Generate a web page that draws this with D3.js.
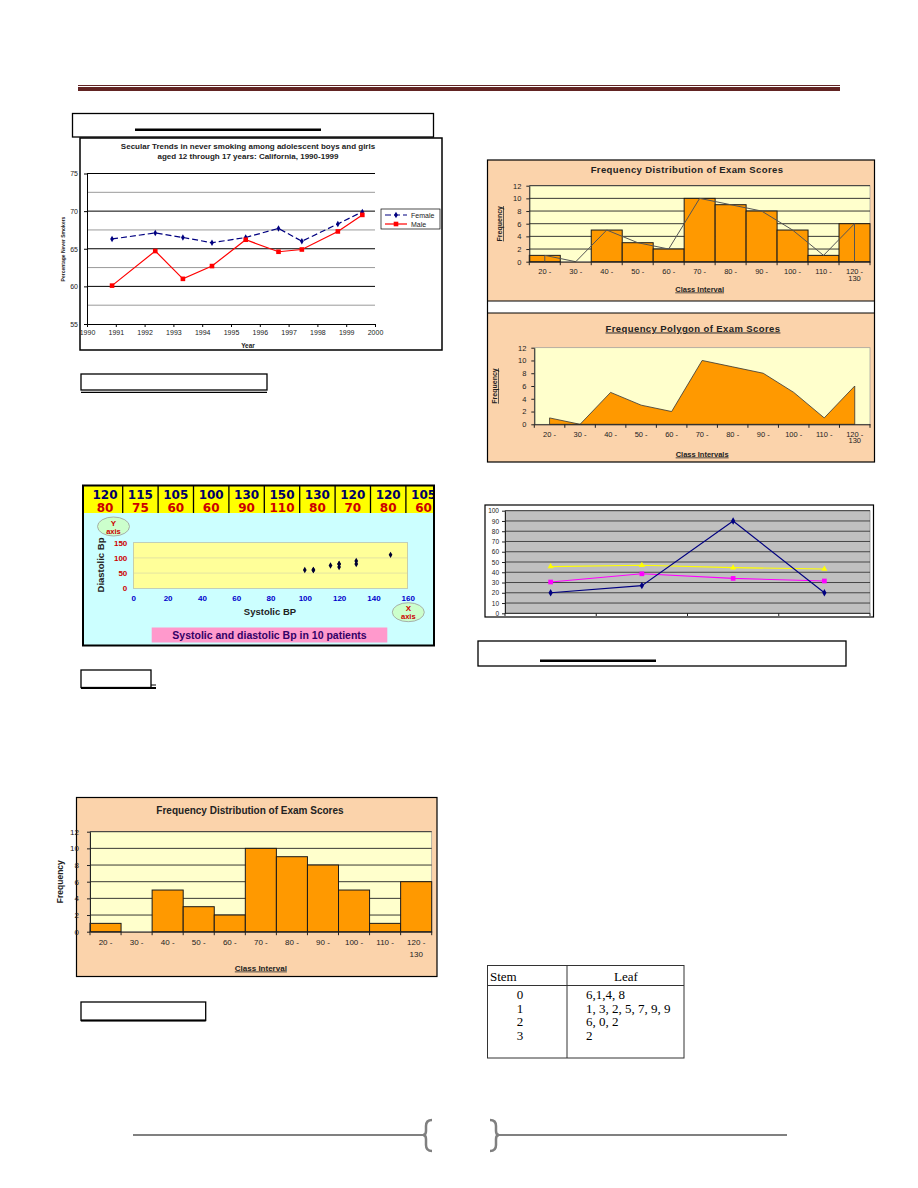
<!DOCTYPE html>
<html><head><meta charset="utf-8">
<script src="https://cdn.jsdelivr.net/npm/d3@7"></script>
<style>
body{margin:0;background:#fff}
svg{display:block}
</style>
</head><body>
<svg id="c" width="918" height="1188" font-family="Liberation Sans, Arial, sans-serif"></svg>
<script>
// ---------- DATA ----------
const trendYears = [1990.87, 1992.37, 1993.33, 1994.34, 1995.51, 1996.65, 1997.46, 1998.71, 1999.56];
const femalePct = [66.3, 67.1, 66.5, 65.8, 66.5, 67.7, 66.0, 68.3, 69.9];
const malePct   = [60.1, 64.7, 61.0, 62.7, 66.2, 64.6, 64.9, 67.3, 69.5];
const trendXTicks = [1990, 1991, 1992, 1993, 1994, 1995, 1996, 1997, 1998, 1999, 2000];
const trendYTicks = [55, 60, 65, 70, 75];
const trendGrid = [57.5, 60, 62.5, 65, 67.5, 70, 72.5, 75];

const bpSystolic  = [120, 115, 105, 100, 130, 150, 130, 120, 120, 105];
const bpDiastolic = [80, 75, 60, 60, 90, 110, 80, 70, 80, 60];
const bpXTicks = [0, 20, 40, 60, 80, 100, 120, 140, 160];
const bpYTicks = [0, 50, 100, 150];

const classLabels = ["20 -", "30 -", "40 -", "50 -", "60 -", "70 -", "80 -", "90 -", "100 -", "110 -", "120 -"];
const examFreq = [1, 0, 5, 3, 2, 10, 9, 8, 5, 1, 6];
const freqTicks = [0, 2, 4, 6, 8, 10, 12];

const lineCats = [0, 1, 2, 3];
const seriesNavy = [20, 27, 90, 20];
const seriesMagenta = [30.5, 38.5, 34, 31.5];
const seriesYellow = [45.5, 46.8, 44.5, 43.2];
const lineYTicks = [0, 10, 20, 30, 40, 50, 60, 70, 80, 90, 100];

const stems = ["0", "1", "2", "3"];
const leaves = ["6,1,4, 8", "1, 3, 2, 5, 7, 9, 9", "6, 0, 2", "2"];

// ---------- PAGE ----------
const svg = d3.select("#c");
const SANS = "Liberation Sans, Arial, sans-serif";
const PEACH = "#fbd3ab", PALE = "#ffffcc", ORANGE = "#ff9900";

// header rule
svg.append("line").attr("x1",78).attr("x2",840).attr("y1",85.5).attr("y2",85.5).attr("stroke","#622423").attr("stroke-width",1);
svg.append("rect").attr("x",78).attr("y",87).attr("width",762).attr("height",4).attr("fill","#622423");

// empty caption boxes
function box(x,y,w,h,sw){svg.append("rect").attr("x",x).attr("y",y).attr("width",w).attr("height",h).attr("fill","none").attr("stroke","#000").attr("stroke-width",sw||1.3);}
box(72.5,113.5,361,23.5);
svg.append("rect").attr("x",135).attr("y",128.5).attr("width",186).attr("height",2.5).attr("fill","#000");
box(81,374,186,16);
svg.append("line").attr("x1",81).attr("x2",267).attr("y1",392.3).attr("y2",392.3).attr("stroke","#000").attr("stroke-width",1.2);
box(81,670,70,17.5);
svg.append("line").attr("x1",81).attr("x2",156).attr("y1",688).attr("y2",688).attr("stroke","#000").attr("stroke-width",2);
svg.append("line").attr("x1",151).attr("x2",156).attr("y1",685).attr("y2",685).attr("stroke","#000").attr("stroke-width",1);
box(81,1002,124.7,18.5);
svg.append("line").attr("x1",81).attr("x2",205.7).attr("y1",1020.5).attr("y2",1020.5).attr("stroke","#000").attr("stroke-width",2);
box(478,641,368,25);
svg.append("rect").attr("x",540).attr("y",659.5).attr("width",116).attr("height",2.5).attr("fill","#000");

// ---------- TREND LINE CHART ----------
{
  const g = svg.append("g");
  g.append("rect").attr("x",80).attr("y",138).attr("width",362).attr("height",212).attr("fill","#fff").attr("stroke","#000").attr("stroke-width",1.5);
  g.append("text").attr("x",248).attr("y",148.5).attr("text-anchor","middle").attr("font-size",8).attr("font-weight","bold").attr("fill","#222").text("Secular Trends in never smoking among adolescent boys and girls");
  g.append("text").attr("x",248).attr("y",158.5).attr("text-anchor","middle").attr("font-size",8).attr("font-weight","bold").attr("fill","#222").text("aged 12 through 17 years: California, 1990-1999");
  const x = d3.scaleLinear().domain([1990,2000]).range([87,375]);
  const y = d3.scaleLinear().domain([55,75]).range([324,173.5]);
  g.selectAll(".gl").data(trendGrid).join("line")
    .attr("x1",87).attr("x2",375).attr("y1",d=>y(d)).attr("y2",d=>y(d))
    .attr("stroke",d=>d%5===0?"#000":"#808080").attr("stroke-width",d=>d%5===0?1:0.8);
  const ax = g.append("g").attr("transform","translate(0,324)")
    .call(d3.axisBottom(x).tickValues(trendXTicks).tickFormat(d3.format("d")).tickSize(3).tickSizeOuter(0).tickPadding(3));
  const ay = g.append("g").attr("transform","translate(87,0)")
    .call(d3.axisLeft(y).tickValues(trendYTicks).tickSize(3).tickSizeOuter(0).tickPadding(6));
  [ax,ay].forEach(a=>{a.attr("font-family",SANS); a.selectAll("text").attr("font-size",7).attr("fill","#222");
    a.selectAll("line,path").attr("stroke","#000");});
  g.append("text").attr("x",248).attr("y",348).attr("text-anchor","middle").attr("font-size",6.5).attr("font-weight","bold").attr("fill","#222").text("Year");
  g.append("text").attr("transform","translate(65,249) rotate(-90)").attr("text-anchor","middle").attr("font-size",5).attr("font-weight","bold").attr("fill","#222").text("Percentage Never Smokers");
  const line = d3.line().x((d,i)=>x(trendYears[i])).y(d=>y(d));
  g.append("path").datum(femalePct).attr("d",line).attr("fill","none").attr("stroke","#000080").attr("stroke-width",1.2).attr("stroke-dasharray","6,3");
  g.append("path").datum(malePct).attr("d",line).attr("fill","none").attr("stroke","#ff0000").attr("stroke-width",1.2);
  g.selectAll(".fm").data(femalePct).join("path").attr("transform",(d,i)=>`translate(${x(trendYears[i])},${y(d)})`)
    .attr("d",d3.symbol(d3.symbolDiamond,12)).attr("fill","#000080");
  g.selectAll(".mm").data(malePct).join("rect").attr("x",(d,i)=>x(trendYears[i])-2.3).attr("y",d=>y(d)-2.3)
    .attr("width",4.6).attr("height",4.6).attr("fill","#ff0000");
  // legend
  g.append("rect").attr("x",381).attr("y",209).attr("width",59).attr("height",20).attr("fill","#fff").attr("stroke","#000").attr("stroke-width",0.7);
  g.append("line").attr("x1",385).attr("x2",407).attr("y1",215).attr("y2",215).attr("stroke","#000080").attr("stroke-width",1.2).attr("stroke-dasharray","6,3");
  g.append("path").attr("transform","translate(396,215)").attr("d",d3.symbol(d3.symbolDiamond,12)).attr("fill","#000080");
  g.append("text").attr("x",411).attr("y",217.5).attr("font-size",7).attr("fill","#222").text("Female");
  g.append("line").attr("x1",385).attr("x2",407).attr("y1",224).attr("y2",224).attr("stroke","#ff0000").attr("stroke-width",1.2);
  g.append("rect").attr("x",393.7).attr("y",221.7).attr("width",4.6).attr("height",4.6).attr("fill","#ff0000");
  g.append("text").attr("x",411).attr("y",226.5).attr("font-size",7).attr("fill","#222").text("Male");
}

// ---------- SCATTER (BP) ----------
{
  const g = svg.append("g");
  g.append("defs").append("clipPath").attr("id","bpclip").append("rect").attr("x",83).attr("y",485).attr("width",351).attr("height",161);
  g.append("rect").attr("x",83).attr("y",485.5).attr("width",351).attr("height",160).attr("fill","#ccffff");
  const tg = g.append("g").attr("clip-path","url(#bpclip)");
  tg.append("rect").attr("x",83).attr("y",486).attr("width",351).attr("height",27).attr("fill","#ffff00");
  const col = d3.scaleBand().domain(d3.range(bpSystolic.length)).range([87.3,441.3]);
  tg.selectAll(".cd").data(d3.range(1,bpSystolic.length)).join("line")
    .attr("x1",d=>col(d)).attr("x2",d=>col(d)).attr("y1",486).attr("y2",513).attr("stroke","#000").attr("stroke-width",1.3);
  tg.selectAll(".s").data(bpSystolic).join("text").attr("x",(d,i)=>col(i)+col.bandwidth()/2).attr("y",498.5)
    .attr("text-anchor","middle").attr("font-family","DejaVu Sans, sans-serif").attr("font-weight","bold").attr("font-size",12).attr("fill","#000066").text(d=>d);
  tg.selectAll(".d").data(bpDiastolic).join("text").attr("x",(d,i)=>col(i)+col.bandwidth()/2).attr("y",511.5)
    .attr("text-anchor","middle").attr("font-family","DejaVu Sans, sans-serif").attr("font-weight","bold").attr("font-size",12).attr("fill","#cc0000").text(d=>d);
  g.append("rect").attr("x",83).attr("y",485.5).attr("width",351).attr("height",160).attr("fill","none").attr("stroke","#000").attr("stroke-width",2);

  const x = d3.scaleLinear().domain([0,160]).range([133.3,407.7]);
  const y = d3.scaleLinear().domain([0,150]).range([588.3,542.7]);
  g.append("rect").attr("x",133.3).attr("y",542.7).attr("width",274.4).attr("height",45.6).attr("fill","#ffff99").attr("stroke","#b0b0a0").attr("stroke-width",0.6);
  g.selectAll(".bg").data([50,100]).join("line").attr("x1",133.3).attr("x2",407.7).attr("y1",d=>y(d)).attr("y2",d=>y(d)).attr("stroke","#d0d0a8").attr("stroke-width",0.6);
  const ay = g.append("g").attr("transform","translate(133.3,0)").call(d3.axisLeft(y).tickValues(bpYTicks).tickSize(0).tickPadding(6));
  const ax = g.append("g").attr("transform","translate(0,588.3)").call(d3.axisBottom(x).tickValues(bpXTicks).tickSize(0).tickPadding(7));
  ay.select(".domain").remove(); ax.select(".domain").remove();
  ay.attr("font-family",SANS); ax.attr("font-family",SANS);
  ay.selectAll("text").attr("font-size",8).attr("font-weight","bold").attr("fill","#cc0000");
  ax.selectAll("text").attr("font-size",8).attr("font-weight","bold").attr("fill","#0000cc");
  g.selectAll(".pt").data(bpSystolic).join("path").attr("transform",(d,i)=>`translate(${x(d)},${y(bpDiastolic[i])})`)
    .attr("d",d3.symbol(d3.symbolDiamond,12)).attr("fill","#000033");
  g.append("text").attr("x",270).attr("y",615).attr("text-anchor","middle").attr("font-size",9.5).attr("font-weight","bold").attr("fill","#222").text("Systolic BP");
  g.append("text").attr("transform","translate(104,565) rotate(-90)").attr("text-anchor","middle").attr("font-size",9.5).attr("font-weight","bold").attr("fill","#222").text("Diastolic Bp");
  // ellipses
  [[113.5,526.5,"Y"],[408.3,612.2,"X"]].forEach(([cx,cy,l])=>{
    g.append("ellipse").attr("cx",cx).attr("cy",cy).attr("rx",16).attr("ry",9.5).attr("fill","#ccffcc").attr("stroke","#9a9a9a").attr("stroke-width",0.8);
    g.append("text").attr("x",cx).attr("y",cy-1).attr("text-anchor","middle").attr("font-size",8).attr("font-weight","bold").attr("fill","#cc0000").text(l);
    g.append("text").attr("x",cx).attr("y",cy+7).attr("text-anchor","middle").attr("font-size",7.5).attr("font-weight","bold").attr("fill","#cc0000").text("axis");
  });
  g.append("rect").attr("x",151.7).attr("y",627.5).attr("width",235.6).attr("height",15).attr("fill","#ff99cc");
  g.append("text").attr("x",269.5).attr("y",639).attr("text-anchor","middle").attr("font-size",10.5).attr("font-weight","bold").attr("fill","#330066").text("Systolic and diastolic Bp in 10 patients");
}

// ---------- HISTOGRAM / POLYGON ----------
function freqChart(cfg){
  const g = svg.append("g");
  const x = d3.scaleBand().domain(d3.range(examFreq.length)).range([cfg.px0,cfg.px1]);
  const y = d3.scaleLinear().domain([0,12]).range([cfg.py1,cfg.py0]);
  const c = i => x(i)+x.bandwidth()/2;
  g.append("rect").attr("x",cfg.px0).attr("y",cfg.py0).attr("width",cfg.px1-cfg.px0).attr("height",cfg.py1-cfg.py0)
    .attr("fill",PALE).attr("stroke","#9a9a9a").attr("stroke-width",0.7);
  if(cfg.grid){
    g.selectAll(".gl").data(freqTicks.filter(d=>d>0)).join("line").attr("x1",cfg.px0).attr("x2",cfg.px1)
      .attr("y1",d=>y(d)).attr("y2",d=>y(d)).attr("stroke","#222").attr("stroke-width",0.9);
  }
  if(cfg.bars){
    g.selectAll(".bar").data(examFreq).join("rect").attr("x",(d,i)=>x(i)).attr("y",d=>y(d))
      .attr("width",x.bandwidth()).attr("height",d=>y(0)-y(d)).attr("fill",ORANGE).attr("stroke","#1a1a1a").attr("stroke-width",1);
  }
  const pts = [[c(0),y(0)]].concat(examFreq.map((d,i)=>[c(i),y(d)])).concat([[c(examFreq.length-1),y(0)]]);
  if(cfg.area){
    g.append("path").attr("d",d3.line()(pts)+"Z").attr("fill",ORANGE).attr("stroke","#333").attr("stroke-width",0.8);
  }
  if(cfg.poly){
    g.append("path").attr("d",d3.line()(pts)).attr("fill","none").attr("stroke","#555").attr("stroke-width",1);
  }
  const ay = g.append("g").attr("transform",`translate(${cfg.px0},0)`)
    .call(d3.axisLeft(y).tickValues(freqTicks).tickSize(3).tickSizeOuter(0).tickPadding(cfg.ypad));
  ay.attr("font-family",SANS);
  ay.selectAll("text").attr("font-size",cfg.tfs).attr("fill","#222");
  ay.selectAll("line,path").attr("stroke","#222");
  const ax = g.append("g").attr("transform",`translate(0,${cfg.py1})`)
    .call(d3.axisBottom(x).tickFormat(i=>classLabels[i]).tickSize(0).tickSizeOuter(0).tickPadding(cfg.xpad));
  ax.attr("font-family",SANS);
  ax.selectAll("text").attr("font-size",cfg.tfs).attr("fill","#222");
  ax.select(".domain").attr("stroke","#222");
  g.selectAll(".bt").data(d3.range(examFreq.length+1)).join("line")
    .attr("x1",i=>i<examFreq.length?x(i):cfg.px1).attr("x2",i=>i<examFreq.length?x(i):cfg.px1)
    .attr("y1",cfg.py1).attr("y2",cfg.py1+3.5).attr("stroke","#222");
  g.append("text").attr("x",c(examFreq.length-1)).attr("y",cfg.py1+cfg.l2).attr("text-anchor","middle").attr("font-size",cfg.tfs).attr("fill","#222").text("130");
  g.append("text").attr("x",cfg.tx).attr("y",cfg.ty).attr("text-anchor","middle").attr("font-size",cfg.titleFs).attr("font-weight","bold").attr("fill","#222")
    .attr("text-decoration",cfg.titleU?"underline":null).attr("letter-spacing",cfg.ls||0).text(cfg.title);
  g.append("text").attr("x",(cfg.px0+cfg.px1)/2).attr("y",cfg.xly).attr("text-anchor","middle").attr("font-size",cfg.xlfs).attr("font-weight","bold").attr("fill","#222")
    .attr("text-decoration","underline").text(cfg.xlabel);
  g.append("text").attr("transform",`translate(${cfg.ylx},${(cfg.py0+cfg.py1)/2}) rotate(-90)`).attr("text-anchor","middle")
    .attr("font-size",cfg.ylfs).attr("font-weight","bold").attr("fill","#222").attr("text-decoration",cfg.ylU?"underline":null).text("Frequency");
}

// top-right container
svg.append("rect").attr("x",487.5).attr("y",160).attr("width",387).attr("height",141).attr("fill",PEACH);
svg.append("rect").attr("x",487.5).attr("y",313).attr("width",387).attr("height",149).attr("fill",PEACH);
svg.append("rect").attr("x",487.5).attr("y",160).attr("width",387).attr("height",302).attr("fill","none").attr("stroke","#000").attr("stroke-width",1.2);
svg.append("line").attr("x1",487.5).attr("x2",874.5).attr("y1",301).attr("y2",301).attr("stroke","#000").attr("stroke-width",1);
svg.append("line").attr("x1",487.5).attr("x2",874.5).attr("y1",313).attr("y2",313).attr("stroke","#000").attr("stroke-width",1);

freqChart({px0:529.3,px1:870,py0:185.7,py1:261.7,grid:true,bars:true,poly:true,area:false,
  ypad:5,xpad:7,tfs:7.5,l2:19,title:"Frequency Distribution of Exam Scores",tx:687,ty:172.5,titleFs:9.5,ls:0.4,
  xlabel:"Class Interval",xly:291.5,xlfs:7.5,ylx:502,ylfs:7,ylU:true});
freqChart({px0:534.3,px1:870,py0:347.7,py1:424.3,grid:false,bars:false,poly:false,area:true,
  ypad:5,xpad:7,tfs:7.5,l2:19,title:"Frequency Polygon of Exam Scores",tx:693,ty:331.5,titleFs:9.5,ls:0.4,titleU:true,
  xlabel:"Class Intervals",xly:456.5,xlfs:7.5,ylx:497,ylfs:7,ylU:true});

// bottom-left histogram
svg.append("rect").attr("x",76.5).attr("y",797.5).attr("width",360.5).attr("height",179).attr("fill",PEACH).attr("stroke","#000").attr("stroke-width",1.2);
freqChart({px0:90,px1:431.7,py0:831.7,py1:931.7,grid:true,bars:true,poly:false,area:false,
  ypad:8,xpad:8,tfs:8,l2:25.5,title:"Frequency Distribution of Exam Scores",tx:250,ty:813.5,titleFs:10,
  xlabel:"Class Interval",xly:970.5,xlfs:8,ylx:63,ylfs:8.5,ylU:false});

// ---------- SMALL LINE CHART ----------
{
  const g = svg.append("g");
  g.append("rect").attr("x",485).attr("y",505).attr("width",388.5).attr("height",112).attr("fill","#fff").attr("stroke","#000").attr("stroke-width",1.2);
  const x = d3.scaleBand().domain(lineCats).range([505,870]);
  const cx = i => x(i)+x.bandwidth()/2;
  const y = d3.scaleLinear().domain([0,100]).range([613.3,510.7]);
  g.append("rect").attr("x",505).attr("y",510.7).attr("width",365).attr("height",102.6).attr("fill","#c0c0c0").attr("stroke","#808080").attr("stroke-width",0.7);
  g.selectAll(".gl").data(lineYTicks.filter(d=>d>0)).join("line").attr("x1",505).attr("x2",870).attr("y1",d=>y(d)).attr("y2",d=>y(d))
    .attr("stroke","#111").attr("stroke-width",0.7);
  const ay = g.append("g").attr("transform","translate(505,0)").call(d3.axisLeft(y).tickValues(lineYTicks).tickSize(3).tickSizeOuter(0).tickPadding(3));
  ay.attr("font-family",SANS);
  ay.selectAll("text").attr("font-size",6.5).attr("fill","#222");
  ay.selectAll("line,path").attr("stroke","#222");
  g.append("line").attr("x1",505).attr("x2",870).attr("y1",613.3).attr("y2",613.3).attr("stroke","#222");
  g.selectAll(".xt").data(lineCats.concat([4])).join("line").attr("x1",i=>i<4?x(i):870).attr("x2",i=>i<4?x(i):870).attr("y1",613.3).attr("y2",616).attr("stroke","#222");
  const line = d3.line().x((d,i)=>cx(lineCats[i])).y(d=>y(d));
  const series = [[seriesYellow,"#ffff00","tri"],[seriesMagenta,"#ff00ff","sq"],[seriesNavy,"#000080","dia"]];
  series.forEach(([vals,col,m])=>{
    g.append("path").datum(vals).attr("d",line).attr("fill","none").attr("stroke",col).attr("stroke-width",1.1);
    const sym = m==="tri"?d3.symbolTriangle:(m==="sq"?d3.symbolSquare:d3.symbolDiamond);
    g.selectAll(".m"+m).data(vals).join("path").attr("transform",(d,i)=>`translate(${cx(lineCats[i])},${y(d)})`)
      .attr("d",d3.symbol(sym,m==="sq"?22:16)).attr("fill",col);
  });
}

// ---------- STEM & LEAF TABLE ----------
{
  const SERIF = "Liberation Serif, Times New Roman, serif";
  const g = svg.append("g").attr("font-family",SERIF);
  g.append("rect").attr("x",487.5).attr("y",965.5).attr("width",196.5).attr("height",92.5).attr("fill","none").attr("stroke","#333").attr("stroke-width",1);
  g.append("line").attr("x1",567).attr("x2",567).attr("y1",965.5).attr("y2",1058).attr("stroke","#333");
  g.append("line").attr("x1",487.5).attr("x2",684).attr("y1",985.5).attr("y2",985.5).attr("stroke","#333");
  g.append("text").attr("x",490).attr("y",980.5).attr("font-size",13).text("Stem");
  g.append("text").attr("x",626).attr("y",980.5).attr("text-anchor","middle").attr("font-size",13).text("Leaf");
  const ry = d3.scaleBand().domain(d3.range(stems.length)).range([988,1042]);
  g.selectAll(".st").data(stems).join("text").attr("x",520).attr("y",(d,i)=>ry(i)+ry.bandwidth()/2+4.5).attr("text-anchor","middle")
    .attr("font-size",13).text(d=>d);
  g.selectAll(".lf").data(leaves).join("text").attr("x",586).attr("y",(d,i)=>ry(i)+ry.bandwidth()/2+4.5)
    .attr("font-size",13).text(d=>d);
}

// ---------- FOOTER ----------
svg.append("line").attr("x1",133).attr("x2",424).attr("y1",1135).attr("y2",1135).attr("stroke","#808080").attr("stroke-width",2);
svg.append("line").attr("x1",497).attr("x2",787).attr("y1",1135).attr("y2",1135).attr("stroke","#808080").attr("stroke-width",2);
svg.append("path").attr("d","M432,1120 Q426,1120 426,1126 L426,1131 Q426,1135 423,1135 Q426,1135 426,1139 L426,1145 Q426,1151 432,1151")
  .attr("fill","none").attr("stroke","#808080").attr("stroke-width",2.5);
svg.append("path").attr("d","M490,1120 Q496,1120 496,1126 L496,1131 Q496,1135 499,1135 Q496,1135 496,1139 L496,1145 Q496,1151 490,1151")
  .attr("fill","none").attr("stroke","#808080").attr("stroke-width",2.5);
</script>
</body></html>
